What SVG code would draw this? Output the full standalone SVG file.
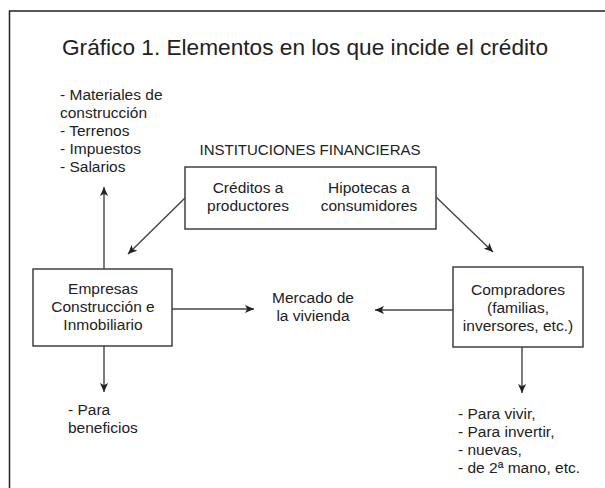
<svg xmlns="http://www.w3.org/2000/svg" width="605" height="488" viewBox="0 0 605 488">
<defs>
<marker id="ah" viewBox="0 0 10 10" refX="10" refY="5" markerWidth="9" markerHeight="9" markerUnits="userSpaceOnUse" orient="auto">
<path d="M0,0.5 L10,5 L0,9.5 L2.5,5 Z" fill="#222"/>
</marker>
</defs>
<style>
text{font-family:"Liberation Sans",Arial,sans-serif;fill:#222;font-size:15.5px}
.t{font-size:22px}
.c{text-anchor:middle}
.box{fill:#fff;stroke:#333;stroke-width:1.4}
.ln{stroke:#444;stroke-width:1.4;fill:none;marker-end:url(#ah)}
.fr{stroke:#222;stroke-width:1.5;fill:none}
</style>
<rect width="605" height="488" fill="#fff"/>
<path class="fr" d="M9.5,488 V11 H605"/>
<text class="t" x="62" y="55" textLength="486" lengthAdjust="spacingAndGlyphs">Gráfico 1. Elementos en los que incide el crédito</text>
<g id="costes">
<text x="60" y="100">- Materiales de</text>
<text x="60" y="118">construcción</text>
<text x="60" y="136">- Terrenos</text>
<text x="60" y="154">- Impuestos</text>
<text x="60" y="172">- Salarios</text>
</g>
<g id="instituciones">
<text class="c" x="310" y="155" textLength="221" lengthAdjust="spacingAndGlyphs">INSTITUCIONES FINANCIERAS</text>
<rect class="box" x="185" y="167" width="251" height="62"/>
<text class="c" x="248" y="193">Créditos a</text>
<text class="c" x="248" y="211">productores</text>
<text class="c" x="369" y="193">Hipotecas a</text>
<text class="c" x="369" y="211">consumidores</text>
</g>
<g id="empresas">
<rect class="box" x="33" y="269" width="139" height="77"/>
<text class="c" x="103" y="294">Empresas</text>
<text class="c" x="103" y="312">Construcción e</text>
<text class="c" x="103" y="330">Inmobiliario</text>
</g>
<g id="mercado">
<text class="c" x="313" y="303">Mercado de</text>
<text class="c" x="313" y="321">la vivienda</text>
</g>
<g id="compradores">
<rect class="box" x="453" y="267" width="130" height="80"/>
<text class="c" x="518" y="295">Compradores</text>
<text class="c" x="518" y="313">(familias,</text>
<text class="c" x="518" y="331">inversores, etc.)</text>
</g>
<g id="beneficios">
<text x="68" y="415">- Para</text>
<text x="68" y="433">beneficios</text>
</g>
<g id="usos">
<text x="458" y="419">- Para vivir,</text>
<text x="458" y="437">- Para invertir,</text>
<text x="458" y="455">- nuevas,</text>
<text x="458" y="473">- de 2ª mano, etc.</text>
</g>
<g id="connectors">
<line class="ln" x1="104" y1="269" x2="104" y2="187"/>
<line class="ln" x1="185" y1="198" x2="128" y2="254"/>
<line class="ln" x1="436" y1="197" x2="493" y2="252"/>
<line class="ln" x1="172" y1="309" x2="254" y2="309"/>
<line class="ln" x1="453" y1="310" x2="375" y2="310"/>
<line class="ln" x1="104" y1="346" x2="104" y2="392"/>
<line class="ln" x1="522" y1="347" x2="522" y2="393"/>
</g>
</svg>
